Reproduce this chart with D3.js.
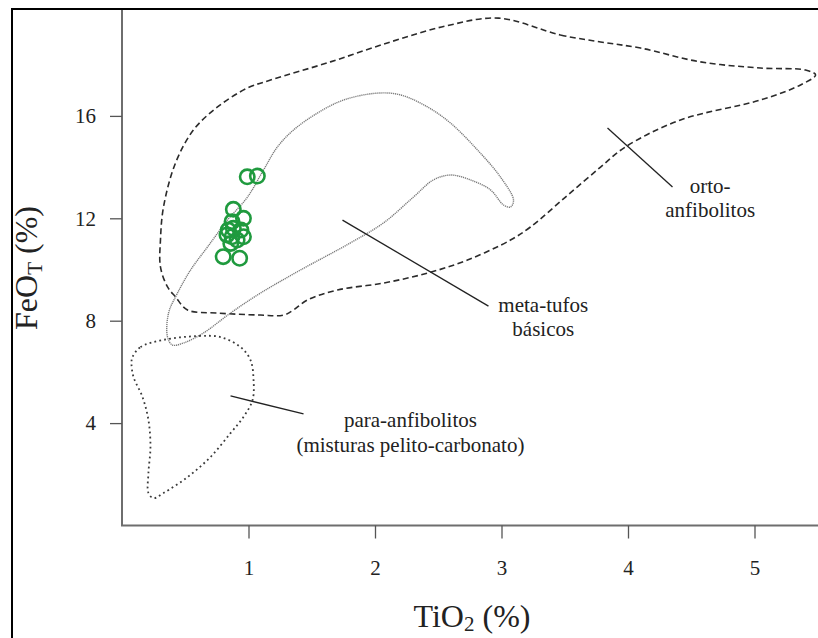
<!DOCTYPE html>
<html>
<head>
<meta charset="utf-8">
<script src="https://cdn.jsdelivr.net/npm/d3@7"></script>
<style>
  html, body { margin: 0; padding: 0; background: #fff; }
  svg { display: block; }
  svg text { font-family: "Liberation Serif", "Times New Roman", serif; }
</style>
</head>
<body>
<svg id="chart" width="818" height="638"></svg>
<script>
// TiO2 (%) vs FeO_T (%) discrimination fields for amphibolites
const xTicks = [1, 2, 3, 4, 5];
const yTicks = [4, 8, 12, 16];

// Sample analyses: TiO2 (%), FeO_T (%)
const sampleTiO2 = [0.99, 1.07, 0.88, 0.96, 0.87, 0.84, 0.88, 0.83, 0.94, 0.96, 0.87, 0.91, 0.86, 0.80, 0.93];
const sampleFeO  = [13.62, 13.65, 12.35, 12.00, 11.87, 11.54, 11.61, 11.35, 11.54, 11.28, 11.28, 11.15, 11.02, 10.50, 10.44];

// Field outlines as [TiO2, FeO_T] vertices
const ortoField = [
  [2.976, 19.82], [3.466, 19.16], [3.783, 18.89], [4.099, 18.65], [4.573, 18.11],
  [5.047, 17.87], [5.403, 17.79], [5.483, 17.60], [5.364, 17.21], [5.047, 16.62],
  [4.415, 15.84], [3.980, 14.79], [3.783, 14.00], [3.506, 12.83], [3.229, 11.66],
  [3.071, 11.15], [2.731, 10.37], [2.415, 9.86], [2.067, 9.47], [1.704, 9.20],
  [1.466, 8.81], [1.356, 8.42], [1.277, 8.22], [1.095, 8.22], [0.755, 8.30],
  [0.518, 8.42], [0.423, 8.93], [0.360, 9.32], [0.304, 10.10], [0.304, 11.15],
  [0.328, 12.44], [0.423, 14.16], [0.565, 15.45], [0.755, 16.35], [0.992, 17.09],
  [1.174, 17.40], [1.648, 18.11], [2.123, 18.89], [2.557, 19.51]
];
const metaField = [
  [0.399, 7.05], [0.360, 7.36], [0.368, 8.30], [0.439, 9.08], [0.542, 9.98],
  [0.676, 10.88], [0.834, 11.93], [0.992, 12.83], [1.119, 13.89], [1.229, 14.79],
  [1.356, 15.45], [1.545, 16.11], [1.751, 16.62], [2.020, 16.89], [2.202, 16.82],
  [2.415, 16.35], [2.597, 15.72], [2.810, 14.67], [2.992, 13.61], [3.095, 12.71],
  [3.071, 12.44], [3.016, 12.52], [2.913, 13.11], [2.755, 13.50], [2.597, 13.69],
  [2.462, 13.50], [2.304, 12.83], [2.067, 11.82], [1.806, 11.04], [1.411, 9.98],
  [1.095, 9.08], [0.858, 8.30], [0.644, 7.52], [0.486, 7.13]
];
const paraField = [
  [0.083, 6.58], [0.146, 6.97], [0.328, 7.25], [0.597, 7.40], [0.779, 7.36],
  [0.937, 6.97], [1.016, 6.46], [1.040, 5.68], [1.032, 4.90], [0.960, 4.24],
  [0.858, 3.61], [0.700, 2.68], [0.518, 1.89], [0.328, 1.27], [0.249, 1.07],
  [0.209, 1.27], [0.209, 2.05], [0.225, 3.07], [0.209, 4.12], [0.162, 5.02],
  [0.091, 5.80], [0.075, 6.35]
];

// Field names with leader lines (data units)
const fieldNames = [
  { lines: ["orto-", "anfibolitos"], at: [4.65, 13.0], from: [3.838, 15.53], to: [4.352, 13.22] },
  { lines: ["meta-tufos", "básicos"], at: [3.33, 8.35], from: [1.743, 11.93], to: [2.897, 8.57] },
  { lines: ["para-anfibolitos", "(misturas pelito-carbonato)"], at: [2.28, 3.83], from: [0.858, 5.06], to: [1.435, 4.36] }
];

const W = 818, H = 638;
const plot = { left: 122, top: 10, right: 818, bottom: 525.5 };
const serif = "Liberation Serif, Times New Roman, serif";

const svg = d3.select("#chart");

const x = d3.scaleLinear().domain([0, (plot.right - plot.left) / 126.5]).range([plot.left, plot.right]);
const y = d3.scaleLinear().domain([0, (plot.bottom - plot.top) / 25.6]).range([plot.bottom, plot.top]);

// outer figure frame
svg.append("path")
  .attr("d", `M12,${H} L12,9 L${W},9`)
  .attr("fill", "none").attr("stroke", "#000").attr("stroke-width", 2);

// plot box
svg.append("path")
  .attr("d", `M${W},${plot.bottom} L${plot.left},${plot.bottom} L${plot.left},${plot.top}`)
  .attr("fill", "none").attr("stroke", "#6e6e6e").attr("stroke-width", 2);

// axes
const xAxis = d3.axisBottom(x).tickValues(xTicks).tickSize(13).tickPadding(22).tickFormat(d3.format("d"));
const gx = svg.append("g").attr("transform", `translate(0,${plot.bottom})`).call(xAxis);
gx.attr("font-family", serif);
gx.select(".domain").remove();
gx.selectAll(".tick line").attr("stroke", "#555").attr("stroke-width", 1.3);
gx.selectAll(".tick text").attr("font-size", 21).attr("fill", "#222").attr("font-family", serif);

const yAxis = d3.axisLeft(y).tickValues(yTicks).tickSize(12).tickPadding(14).tickFormat(d3.format("d"));
const gy = svg.append("g").attr("transform", `translate(${plot.left},0)`).call(yAxis);
gy.attr("font-family", serif);
gy.select(".domain").remove();
gy.selectAll(".tick line").attr("stroke", "#555").attr("stroke-width", 1.3);
gy.selectAll(".tick text").attr("font-size", 21).attr("fill", "#222").attr("font-family", serif);

// axis titles
const xt = svg.append("text")
  .attr("x", 472).attr("y", 627)
  .attr("text-anchor", "middle").attr("font-size", 32).attr("fill", "#222").attr("font-family", serif);
xt.append("tspan").text("TiO");
xt.append("tspan").attr("font-size", 21).attr("dy", 4).text("2");
xt.append("tspan").attr("dy", -4).text(" (%)");

const yt = svg.append("text")
  .attr("transform", "translate(37,268) rotate(-90)")
  .attr("text-anchor", "middle").attr("font-size", 32).attr("fill", "#222").attr("font-family", serif);
yt.append("tspan").text("FeO");
yt.append("tspan").attr("font-size", 21).attr("dy", 5).text("T");
yt.append("tspan").attr("dy", -5).text(" (%)");

// field outlines
const outline = d3.line().x(d => x(d[0])).y(d => y(d[1])).curve(d3.curveCatmullRomClosed.alpha(0.5));

svg.append("path").attr("d", outline(ortoField))
  .attr("fill", "none").attr("stroke", "#2b2b2b").attr("stroke-width", 1.6)
  .attr("stroke-dasharray", "6,3.5");

svg.append("path").attr("d", outline(metaField))
  .attr("fill", "none").attr("stroke", "#7a7a7a").attr("stroke-width", 1.4)
  .attr("stroke-dasharray", "1.2,0.8");

svg.append("path").attr("d", outline(paraField))
  .attr("fill", "none").attr("stroke", "#3a3a3a").attr("stroke-width", 1.8)
  .attr("stroke-dasharray", "1.8,3.2");

// leader lines and field names
fieldNames.forEach(f => {
  svg.append("line")
    .attr("x1", x(f.from[0])).attr("y1", y(f.from[1]))
    .attr("x2", x(f.to[0])).attr("y2", y(f.to[1]))
    .attr("stroke", "#222").attr("stroke-width", 1.3);
  const t = svg.append("text")
    .attr("x", x(f.at[0])).attr("y", y(f.at[1]))
    .attr("text-anchor", "middle").attr("font-size", 21).attr("fill", "#222")
    .attr("font-family", serif);
  f.lines.forEach((s, i) => {
    t.append("tspan").attr("x", x(f.at[0])).attr("dy", i === 0 ? 0 : 24.5).text(s);
  });
});

// sample circles
const samples = sampleTiO2.map((v, i) => [v, sampleFeO[i]]);
svg.append("g").selectAll("circle").data(samples).join("circle")
  .attr("cx", d => x(d[0])).attr("cy", d => y(d[1])).attr("r", 7.2)
  .attr("fill", "none").attr("stroke", "#1f9a3e").attr("stroke-width", 2.6);
</script>
</body>
</html>
